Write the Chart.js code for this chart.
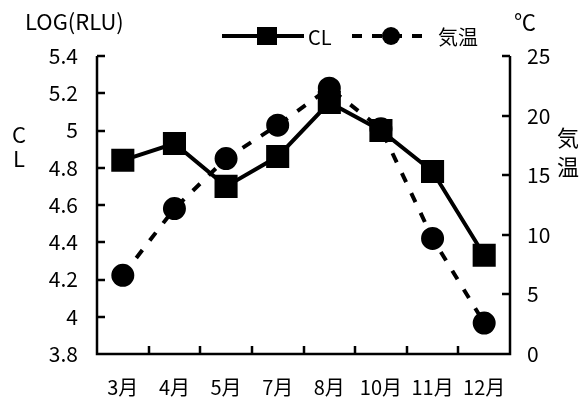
<!DOCTYPE html>
<html>
<head>
<meta charset="utf-8">
<script src="https://cdn.jsdelivr.net/npm/chart.js@4/dist/chart.umd.min.js"></script>
<style>
  html, body { margin: 0; padding: 0; background: #fff; }
  #wrap { width: 581px; height: 398px; position: relative; }
</style>
</head>
<body>
<div id="wrap"><canvas id="myChart"></canvas></div>
<script>
const months = ['3月', '4月', '5月', '7月', '8月', '10月', '11月', '12月'];
const clValues = [4.84, 4.93, 4.70, 4.86, 5.15, 5.00, 4.78, 4.33];
const tempValues = [6.6, 12.2, 16.4, 19.2, 22.3, 18.9, 9.7, 2.6];
const clTicks = [3.8, 5.4, 0.2];   // min, max, step
const tempTicks = [0, 25, 5];

const FONT = '"Noto Sans CJK JP", "DejaVu Sans", sans-serif';

// axes, inward ticks, titles and legend
const decor = {
    id: 'decor',
    afterDraw(chart) {
        const ctx = chart.ctx;
        const a = chart.chartArea;
        const x = chart.scales.x, yl = chart.scales.y, yr = chart.scales.y1;
        ctx.save();
        ctx.strokeStyle = '#000';
        ctx.lineWidth = 2.5;
        ctx.beginPath();
        ctx.moveTo(a.left, a.top); ctx.lineTo(a.left, a.bottom);
        ctx.lineTo(a.right, a.bottom); ctx.lineTo(a.right, a.top);
        for (const t of yl.ticks) {
            const py = Math.round(yl.getPixelForValue(t.value));
            ctx.moveTo(a.left, py); ctx.lineTo(a.left + 8, py);
        }
        for (const t of yr.ticks) {
            const py = Math.round(yr.getPixelForValue(t.value));
            ctx.moveTo(a.right, py); ctx.lineTo(a.right - 8, py);
        }
        for (let i = 1; i < months.length; i++) {
            const px = Math.round((x.getPixelForValue(i - 1) + x.getPixelForValue(i)) / 2);
            ctx.moveTo(px, a.bottom); ctx.lineTo(px, a.bottom - 8);
        }
        ctx.stroke();

        ctx.fillStyle = '#000';
        ctx.textBaseline = 'middle';
        ctx.textAlign = 'left';
        ctx.font = '22px ' + FONT;
        ctx.fillText('LOG(RLU)', 25, 22);
        ctx.textAlign = 'center';
        ctx.fillText('C', 19, 135);
        ctx.fillText('L', 19, 159);
        ctx.fillText('℃', 525, 22);
        ctx.fillText('気', 568, 138);
        ctx.fillText('温', 568, 167);

        // legend
        const ly = 36;
        ctx.lineWidth = 4;
        ctx.beginPath();
        ctx.moveTo(222, ly); ctx.lineTo(304, ly);
        ctx.stroke();
        ctx.fillRect(257, ly - 9, 20, 18);
        ctx.textAlign = 'left';
        ctx.font = '20px ' + FONT;
        ctx.fillText('CL', 308, ly + 1);
        ctx.setLineDash([10, 10]);
        ctx.beginPath();
        ctx.moveTo(352, ly); ctx.lineTo(422, ly);
        ctx.stroke();
        ctx.setLineDash([]);
        ctx.beginPath();
        ctx.arc(391, ly, 9, 0, Math.PI * 2);
        ctx.fill();
        ctx.fillText('気温', 438, ly + 1);
        ctx.restore();
    }
};

const ctx = document.getElementById('myChart').getContext('2d');
const myChart = new Chart(ctx, {
    type: 'line',
    data: {
        labels: months,
        datasets: [{
            label: 'CL',
            data: clValues,
            yAxisID: 'y',
            borderColor: '#000',
            backgroundColor: '#000',
            borderWidth: 4,
            pointStyle: 'rect',
            pointRadius: 13.5,
            pointHoverRadius: 13.5,
            tension: 0,
        }, {
            label: '気温',
            data: tempValues,
            yAxisID: 'y1',
            borderColor: '#000',
            backgroundColor: '#000',
            borderWidth: 4,
            borderDash: [10, 12],
            pointStyle: 'circle',
            pointRadius: 9.5,
            pointHoverRadius: 9.5,
            tension: 0,
        }]
    },
    options: {
        responsive: true,
        maintainAspectRatio: false,
        animation: false,
        events: [],
        layout: { padding: { top: 56, left: 0, right: 0, bottom: 0 } },
        plugins: {
            legend: false,
            tooltip: { enabled: false }
        },
        scales: {
            x: {
                type: 'category',
                offset: true,
                grid: { display: false, drawTicks: false },
                border: { display: false },
                ticks: { color: '#000', padding: 21, font: { family: FONT, size: 20 }, maxRotation: 0 },
                afterFit(s) { s.height = 44; }
            },
            y: {
                position: 'left',
                min: clTicks[0], max: clTicks[1],
                grid: { display: false, drawTicks: false },
                border: { display: false },
                ticks: {
                    stepSize: clTicks[2], color: '#000', padding: 19,
                    font: { family: FONT, size: 21 },
                    callback: (v) => +v.toFixed(1)
                },
                afterFit(s) { s.width = 97; }
            },
            y1: {
                position: 'right',
                min: tempTicks[0], max: tempTicks[1],
                grid: { display: false, drawTicks: false },
                border: { display: false },
                ticks: { stepSize: tempTicks[2], color: '#000', padding: 17, font: { family: FONT, size: 21 } },
                afterFit(s) { s.width = 71; }
            }
        }
    },
    plugins: [decor]
});
</script>
</body>
</html>
